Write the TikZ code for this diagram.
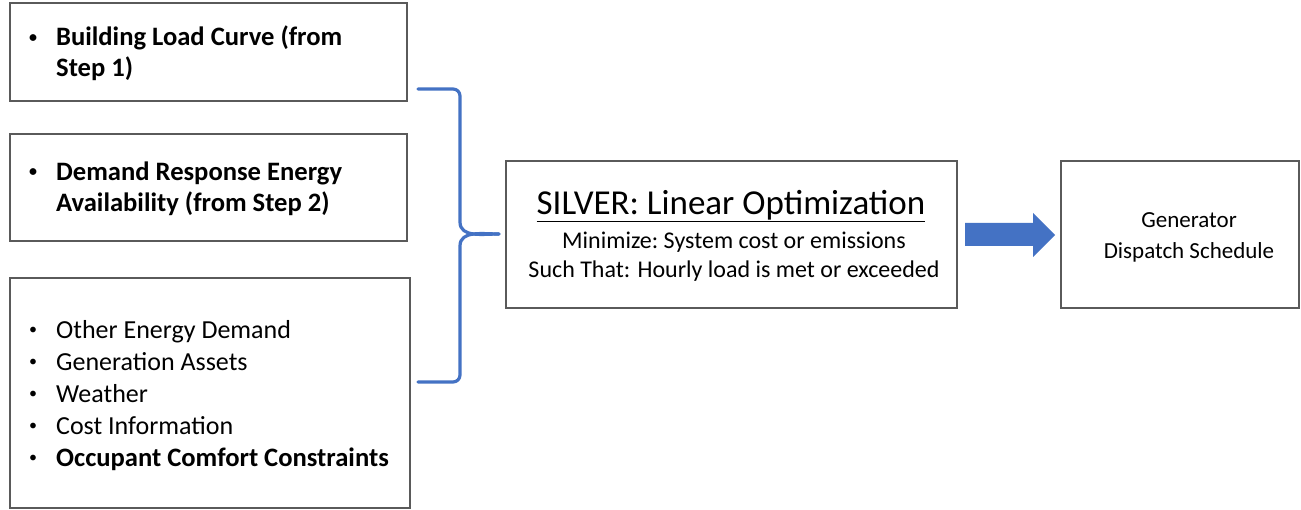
\documentclass[tikz,border=0pt]{standalone}
\usepackage{fontspec}
\setmainfont{Carlito}
\usetikzlibrary{positioning}
\definecolor{boxline}{HTML}{5A5A5A}
\definecolor{bluebr}{HTML}{4472C4}
\newcommand{\mybul}{\raisebox{0.28ex}{\fontsize{16}{16}\selectfont\textbullet}}
\begin{document}
\begin{tikzpicture}[x=1pt,y=-1pt,
  box/.style={draw=boxline,line width=1.2pt,rectangle,inner sep=0pt},
  txt/.style={inner sep=0pt,anchor=west,align=left},
  brace/.style={draw=bluebr,line width=3.2pt,line cap=round,line join=round}]
\useasboundingbox (0,0) rectangle (1301,510);
\fill[white] (0,0) rectangle (1301,510);
% input boxes
\node[box,minimum width=397pt,minimum height=98pt] (b1) at (208.5,52) {};
\node[box,minimum width=397pt,minimum height=107pt] (b2) at (208.5,187.5) {};
\node[box,minimum width=400pt,minimum height=230pt] (b3) at (210,393) {};
\node[txt,font=\fontsize{26.6}{31}\selectfont\bfseries] (t1) at (29,55)
  {\begin{tabular}{@{}l@{\hspace{19pt}}l@{}}\mybul & Building Load Curve (from\\ & Step 1)\end{tabular}};
\node[txt,font=\fontsize{26.6}{31}\selectfont\bfseries] (t2) at (29,189.5)
  {\begin{tabular}{@{}l@{\hspace{19pt}}l@{}}\mybul & Demand Response Energy\\ & Availability (from Step 2)\end{tabular}};
\node[txt,font=\fontsize{26}{32}\selectfont] (t3) at (29,396)
  {\begin{tabular}{@{}l@{\hspace{19pt}}l@{}}\mybul & Other Energy Demand\\ \mybul & Generation Assets\\ \mybul & Weather\\ \mybul & Cost Information\\ \mybul & \textbf{\fontsize{26.6}{32}\selectfont Occupant Comfort Constraints}\end{tabular}};
% brace
\coordinate (btop) at (418,89);
\coordinate (bbot) at (418,382);
\coordinate (btip) at (499,234);
\draw[brace] (btop) -- (453,89) to[out=0,in=90] (460,96) -- (460,222)
  to[out=-90,in=180] (btip);
\draw[brace] (btip) to[out=180,in=90] (460,246) -- (460,375)
  to[out=-90,in=0] (453,382) -- (bbot);
% optimisation box
\node[box,minimum width=451pt,minimum height=147pt] (opt) at (731.5,234.5) {};
\node[inner sep=0pt,font=\fontsize{35}{37}\selectfont] (title) at (731,206) {\underline{SILVER: Linear Optimization}};
\node[inner sep=0pt,font=\fontsize{24}{29}\selectfont,align=center] (sub) at (734,257)
  {\frenchspacing Minimize: System cost or emissions\\Such That: Hourly load is met or exceeded};
% output box
\node[box,minimum width=238pt,minimum height=147pt] (gen) at (1180,234.5) {};
\node[inner sep=0pt,align=center,font=\fontsize{23}{31}\selectfont] (gent) at (1189,237)
  {Generator\\Dispatch Schedule};
% block arrow
\fill[bluebr] (965,223) -- (1033,223) -- (1033,213) -- (1055,235) -- (1033,257) -- (1033,246) -- (965,246) -- cycle;
\end{tikzpicture}
\end{document}
